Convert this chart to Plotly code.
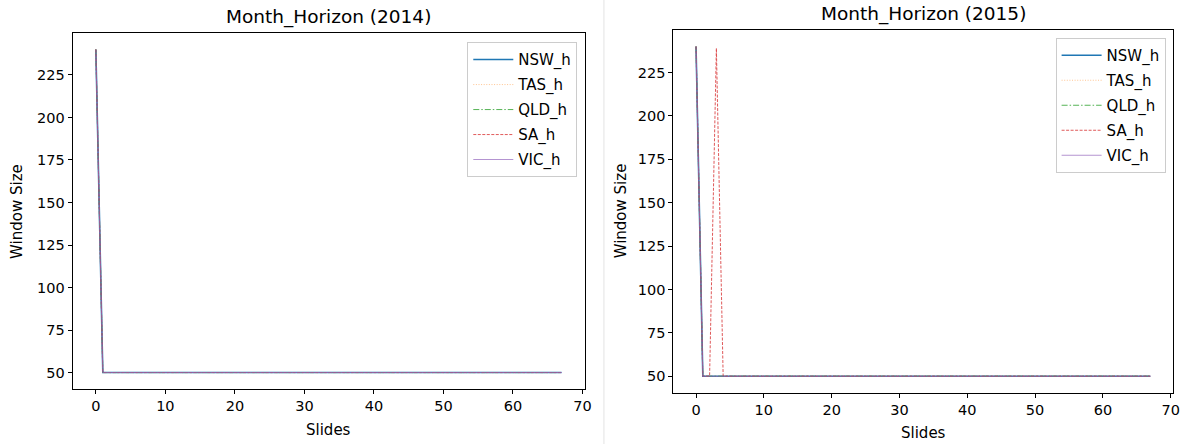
import plotly.graph_objects as go

# ---- data ----
slides = list(range(68))

nsw_2014 = [240, 50, 50, 50, 50, 50, 50, 50, 50, 50, 50, 50, 50, 50, 50, 50, 50, 50, 50, 50, 50, 50, 50, 50, 50, 50, 50, 50, 50, 50, 50, 50, 50, 50, 50, 50, 50, 50, 50, 50, 50, 50, 50, 50, 50, 50, 50, 50, 50, 50, 50, 50, 50, 50, 50, 50, 50, 50, 50, 50, 50, 50, 50, 50, 50, 50, 50, 50]
tas_2014 = [240, 50, 50, 50, 50, 50, 50, 50, 50, 50, 50, 50, 50, 50, 50, 50, 50, 50, 50, 50, 50, 50, 50, 50, 50, 50, 50, 50, 50, 50, 50, 50, 50, 50, 50, 50, 50, 50, 50, 50, 50, 50, 50, 50, 50, 50, 50, 50, 50, 50, 50, 50, 50, 50, 50, 50, 50, 50, 50, 50, 50, 50, 50, 50, 50, 50, 50, 50]
qld_2014 = [240, 50, 50, 50, 50, 50, 50, 50, 50, 50, 50, 50, 50, 50, 50, 50, 50, 50, 50, 50, 50, 50, 50, 50, 50, 50, 50, 50, 50, 50, 50, 50, 50, 50, 50, 50, 50, 50, 50, 50, 50, 50, 50, 50, 50, 50, 50, 50, 50, 50, 50, 50, 50, 50, 50, 50, 50, 50, 50, 50, 50, 50, 50, 50, 50, 50, 50, 50]
sa_2014 = [240, 50, 50, 50, 50, 50, 50, 50, 50, 50, 50, 50, 50, 50, 50, 50, 50, 50, 50, 50, 50, 50, 50, 50, 50, 50, 50, 50, 50, 50, 50, 50, 50, 50, 50, 50, 50, 50, 50, 50, 50, 50, 50, 50, 50, 50, 50, 50, 50, 50, 50, 50, 50, 50, 50, 50, 50, 50, 50, 50, 50, 50, 50, 50, 50, 50, 50, 50]
vic_2014 = [240, 50, 50, 50, 50, 50, 50, 50, 50, 50, 50, 50, 50, 50, 50, 50, 50, 50, 50, 50, 50, 50, 50, 50, 50, 50, 50, 50, 50, 50, 50, 50, 50, 50, 50, 50, 50, 50, 50, 50, 50, 50, 50, 50, 50, 50, 50, 50, 50, 50, 50, 50, 50, 50, 50, 50, 50, 50, 50, 50, 50, 50, 50, 50, 50, 50, 50, 50]

nsw_2015 = [240, 50, 50, 50, 50, 50, 50, 50, 50, 50, 50, 50, 50, 50, 50, 50, 50, 50, 50, 50, 50, 50, 50, 50, 50, 50, 50, 50, 50, 50, 50, 50, 50, 50, 50, 50, 50, 50, 50, 50, 50, 50, 50, 50, 50, 50, 50, 50, 50, 50, 50, 50, 50, 50, 50, 50, 50, 50, 50, 50, 50, 50, 50, 50, 50, 50, 50, 50]
tas_2015 = [240, 50, 50, 50, 50, 50, 50, 50, 50, 50, 50, 50, 50, 50, 50, 50, 50, 50, 50, 50, 50, 50, 50, 50, 50, 50, 50, 50, 50, 50, 50, 50, 50, 50, 50, 50, 50, 50, 50, 50, 50, 50, 50, 50, 50, 50, 50, 50, 50, 50, 50, 50, 50, 50, 50, 50, 50, 50, 50, 50, 50, 50, 50, 50, 50, 50, 50, 50]
qld_2015 = [240, 50, 50, 50, 50, 50, 50, 50, 50, 50, 50, 50, 50, 50, 50, 50, 50, 50, 50, 50, 50, 50, 50, 50, 50, 50, 50, 50, 50, 50, 50, 50, 50, 50, 50, 50, 50, 50, 50, 50, 50, 50, 50, 50, 50, 50, 50, 50, 50, 50, 50, 50, 50, 50, 50, 50, 50, 50, 50, 50, 50, 50, 50, 50, 50, 50, 50, 50]
sa_2015 = [240, 50, 50, 239, 50, 50, 50, 50, 50, 50, 50, 50, 50, 50, 50, 50, 50, 50, 50, 50, 50, 50, 50, 50, 50, 50, 50, 50, 50, 50, 50, 50, 50, 50, 50, 50, 50, 50, 50, 50, 50, 50, 50, 50, 50, 50, 50, 50, 50, 50, 50, 50, 50, 50, 50, 50, 50, 50, 50, 50, 50, 50, 50, 50, 50, 50, 50, 50]
vic_2015 = [240, 50, 50, 50, 50, 50, 50, 50, 50, 50, 50, 50, 50, 50, 50, 50, 50, 50, 50, 50, 50, 50, 50, 50, 50, 50, 50, 50, 50, 50, 50, 50, 50, 50, 50, 50, 50, 50, 50, 50, 50, 50, 50, 50, 50, 50, 50, 50, 50, 50, 50, 50, 50, 50, 50, 50, 50, 50, 50, 50, 50, 50, 50, 50, 50, 50, 50, 50]

series_names = ["NSW_h", "TAS_h", "QLD_h", "SA_h", "VIC_h"]
data_2014 = [nsw_2014, tas_2014, qld_2014, sa_2014, vic_2014]
data_2015 = [nsw_2015, tas_2015, qld_2015, sa_2015, vic_2015]

x_ticks = [0, 10, 20, 30, 40, 50, 60, 70]
y_ticks = [50, 75, 100, 125, 150, 175, 200, 225]

# ---- styles ----
styles = [
    dict(color="#1f77b4", dash="solid", width=1.6, opacity=1.0),
    dict(color="#ff7f0e", dash="1px,1.6px", width=1.0, opacity=0.45),
    dict(color="#2ca02c", dash="6px,2px,1.5px,2px", width=1.0, opacity=0.8),
    dict(color="#d62728", dash="3px,1.5px", width=0.9, opacity=0.85),
    dict(color="#9467bd", dash="solid", width=1.1, opacity=0.7),
]

W, H = 1191, 444
FONT = "DejaVu Sans"

fig = go.Figure()

for i, name in enumerate(series_names):
    st = styles[i]
    fig.add_trace(go.Scatter(
        x=slides, y=data_2014[i], mode="lines", name=name,
        line=dict(color=st["color"], dash=st["dash"], width=st["width"]),
        opacity=st["opacity"], xaxis="x", yaxis="y", legend="legend",
        legendgroup="a%d" % i,
    ))
for i, name in enumerate(series_names):
    st = styles[i]
    fig.add_trace(go.Scatter(
        x=slides, y=data_2015[i], mode="lines", name=name,
        line=dict(color=st["color"], dash=st["dash"], width=st["width"]),
        opacity=st["opacity"], xaxis="x2", yaxis="y2", legend="legend2",
        legendgroup="b%d" % i,
    ))


def px_x(p):
    return p / W


def px_y(p):
    return 1 - p / H


axis_common = dict(
    showgrid=False, zeroline=False, showline=True, linecolor="black", linewidth=1,
    mirror=True, ticks="outside", ticklen=4, tickcolor="black", tickwidth=1,
    tickfont=dict(family=FONT, size=14.5, color="black"),
)

legend_common = dict(
    xanchor="right", yanchor="top",
    bgcolor="rgba(255,255,255,0.8)", bordercolor="#cccccc", borderwidth=1,
    font=dict(family=FONT, size=15, color="black"), tracegroupgap=2.5,
    itemwidth=40,
)

fig.update_layout(
    width=W, height=H,
    margin=dict(l=0, r=0, t=0, b=0),
    paper_bgcolor="white", plot_bgcolor="white",
    font=dict(family=FONT, color="black"),
    xaxis=dict(domain=[px_x(73), px_x(588.3)], range=[-3.35, 70.35],
               tickvals=x_ticks, anchor="y", **axis_common),
    yaxis=dict(domain=[px_y(388.7), px_y(33.3)], range=[40.5, 249.5],
               tickvals=y_ticks, anchor="x", **axis_common),
    xaxis2=dict(domain=[px_x(677.3), px_x(1180)], range=[-3.35, 70.35],
                tickvals=x_ticks, anchor="y2", **axis_common),
    yaxis2=dict(domain=[px_y(392.7), px_y(30)], range=[40.5, 249.5],
                tickvals=y_ticks, anchor="x2", **axis_common),
    legend=dict(x=px_x(580.7), y=px_y(42.3), **legend_common),
    legend2=dict(x=px_x(1172.5), y=px_y(38), **legend_common),
    showlegend=True,
)

annos = [
    dict(text="Month_Horizon (2014)", x=px_x(330.5), y=px_y(17), size=18.5, angle=0),
    dict(text="Month_Horizon (2015)", x=px_x(929), y=px_y(14.5), size=18.5, angle=0),
    dict(text="Slides", x=px_x(330.5), y=px_y(430), size=15, angle=0),
    dict(text="Slides", x=px_x(929), y=px_y(433), size=15, angle=0),
    dict(text="Window Size", x=px_x(17), y=px_y(211), size=15, angle=-90),
    dict(text="Window Size", x=px_x(625), y=px_y(211), size=15, angle=-90),
]
for a in annos:
    fig.add_annotation(
        text=a["text"], x=a["x"], y=a["y"], xref="paper", yref="paper",
        xanchor="center", yanchor="middle", showarrow=False, textangle=a["angle"],
        font=dict(family=FONT, size=a["size"], color="black"),
    )

# thin separator between the two panels
fig.add_shape(type="line", xref="paper", yref="paper",
              x0=px_x(607.5), x1=px_x(607.5), y0=0, y1=1,
              line=dict(color="#e3e3e3", width=1))

# remove the default page margin so the figure fills the window exactly
fig.write_html(
    "out.html",
    config={"displayModeBar": False},
    post_script="document.body.style.margin='0';document.body.style.overflow='hidden';",
)
